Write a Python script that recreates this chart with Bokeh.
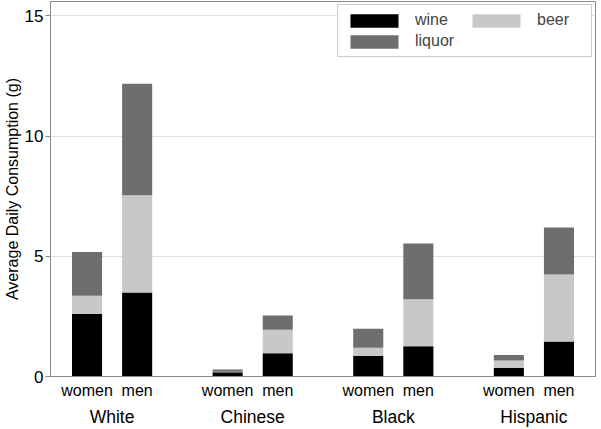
from bokeh.plotting import figure
from bokeh.models import ColumnDataSource, FactorRange, Range1d, Legend, LegendItem, SingleIntervalTicker
from bokeh.embed import file_html
from bokeh.resources import INLINE

groups = ["White", "Chinese", "Black", "Hispanic"]
sexes = ["women", "men"]
wine = [2.61, 3.49, 0.18, 0.97, 0.85, 1.26, 0.36, 1.46]
beer = [0.75, 4.05, 0.02, 0.98, 0.35, 1.95, 0.31, 2.78]
liquor = [1.82, 4.64, 0.09, 0.59, 0.79, 2.32, 0.22, 1.96]
series = ["wine", "beer", "liquor"]
colors = ["#000000", "#c8c8c8", "#6e6e6e"]

x = [(g, s) for g in groups for s in sexes]
src = ColumnDataSource(data=dict(x=x, wine=wine, beer=beer, liquor=liquor))

FONT = "Liberation Sans"
p = figure(width=598, height=429, output_backend="svg", toolbar_location=None,
           x_range=FactorRange(*x, factor_padding=0, group_padding=0.806, range_padding=0.044),
           y_range=Range1d(0, 15.6), min_border_left=0, min_border_right=3,
           min_border_top=1, min_border_bottom=0)

rs = p.vbar_stack(series, x="x", width=0.6, color=colors, line_color=None, source=src)

p.outline_line_color = "#8a8a8a"
p.xgrid.grid_line_color = None
p.ygrid.grid_line_color = "#e0e0e0"
p.yaxis.ticker = SingleIntervalTicker(interval=5)
p.yaxis.minor_tick_line_color = None
p.yaxis.minor_tick_out = 0
p.yaxis.major_tick_in = 0
p.yaxis.major_tick_out = 5
p.yaxis.axis_line_color = "#8a8a8a"
p.yaxis.major_tick_line_color = "#8a8a8a"
p.yaxis.axis_label = "Average Daily Consumption (g)"
p.yaxis.axis_label_text_font = FONT
p.yaxis.axis_label_text_font_size = "16px"
p.yaxis.axis_label_text_font_style = "normal"
p.yaxis.axis_label_text_color = "#000000"
p.yaxis.axis_label_standoff = 1
p.yaxis.major_label_text_font = FONT
p.yaxis.major_label_text_font_size = "17px"
p.yaxis.major_label_text_color = "#000000"
p.yaxis.major_label_standoff = 2

p.xaxis.axis_label = None
p.xaxis.axis_label_text_font_size = "0px"
p.xaxis.axis_label_standoff = 0
p.xaxis.axis_line_color = "#8a8a8a"
p.xaxis.major_tick_line_color = None
p.xaxis.minor_tick_line_color = None
p.xaxis.major_tick_in = 0
p.xaxis.major_tick_out = 0
p.xaxis.minor_tick_in = 0
p.xaxis.minor_tick_out = 0
p.xaxis.major_label_text_font = FONT
p.xaxis.major_label_text_font_size = "16px"
p.xaxis.major_label_text_color = "#000000"
p.xaxis.major_label_standoff = 5
p.xaxis.group_text_font = FONT
p.xaxis.group_text_font_size = "17.5px"
p.xaxis.group_text_font_style = "normal"
p.xaxis.group_text_color = "#000000"
p.xaxis.separator_line_alpha = 0

legend = Legend(items=[LegendItem(label=s, renderers=[r]) for s, r in zip(series, rs)],
                location="top_right", orientation="horizontal", ncols=2,
                glyph_width=60, glyph_height=17, label_text_font=FONT,
                label_text_font_size="16px", label_width=48, label_standoff=11,
                spacing=3, padding=6, margin=3,
                border_line_color="#9a9a9a", background_fill_alpha=1)
p.add_layout(legend)

open("out.html", "w").write(file_html(p, INLINE))
